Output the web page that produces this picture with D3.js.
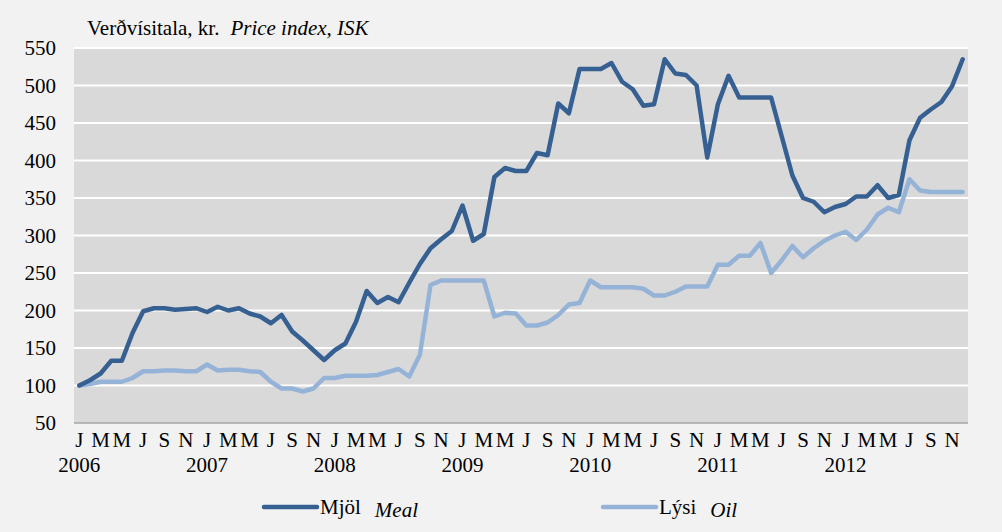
<!DOCTYPE html>
<html>
<head>
<meta charset="utf-8">
<script src="https://cdn.jsdelivr.net/npm/d3@7"></script>
<style>
  body { margin: 0; background: #f2f2f2; }
  svg { display: block; }
  text { font-family: "Liberation Serif", "Times New Roman", serif; fill: #000; }
</style>
</head>
<body>
<svg id="chart" width="1002" height="532"></svg>
<script>
// monthly index, jan 2006 - dec 2012
var years = [2006, 2007, 2008, 2009, 2010, 2011, 2012];
var monthLetters = ["J", "F", "M", "A", "M", "J", "J", "A", "S", "O", "N", "D"];
var yTicks = [50, 100, 150, 200, 250, 300, 350, 400, 450, 500, 550];

var meal = [
  100, 107, 116, 133, 133, 170, 199, 203, 203, 201, 202, 203,
  198, 205, 200, 203, 196, 192, 183, 194, 172, 160, 147, 134,
  147, 156, 185, 226, 210, 218, 211, 237, 262, 283, 295, 306,
  340, 293, 302, 378, 390, 386, 386, 410, 407, 476, 463, 522,
  522, 522, 530, 505, 495, 473, 475, 535, 516, 514, 500, 404,
  475, 513, 484, 484, 484, 484, 432, 380, 350, 345, 331, 338,
  342, 352, 352, 367, 350, 354, 427, 457, 468, 478, 499, 535
];
var oil = [
  100, 102, 105, 105, 105, 110, 119, 119, 120, 120, 119, 119,
  128, 120, 121, 121, 119, 118, 105, 96, 96, 92, 96, 110,
  110, 113, 113, 113, 114, 118, 122, 112, 141, 234, 240, 240,
  240, 240, 240, 192, 197, 196, 180, 180, 184, 194, 208, 210,
  240, 231, 231, 231, 231, 229, 220, 220, 225, 232, 232, 232,
  261, 261, 273, 273, 290, 250, 267, 286, 271, 283, 293, 300,
  305, 294, 308, 328, 337, 331, 375, 360, 358, 358, 358, 358
];

var svg = d3.select("#chart");
var plotLeft = 74, plotRight = 968, plotTop = 48, plotBottom = 423;

var months = d3.range(meal.length);
var x = d3.scaleBand().domain(months).range([plotLeft, plotRight]);
var cx = function(i) { return x(i) + x.bandwidth() / 2; };
var y = d3.scaleLinear().domain([50, 550]).range([plotBottom, plotTop]);

svg.append("rect")
  .attr("x", plotLeft).attr("y", plotTop)
  .attr("width", plotRight - plotLeft).attr("height", plotBottom - plotTop)
  .attr("fill", "#d9d9d9");

// gridlines
svg.append("g").selectAll("line")
  .data(yTicks.slice(1))
  .join("line")
  .attr("x1", plotLeft).attr("x2", plotRight)
  .attr("y1", d => y(d)).attr("y2", d => y(d))
  .attr("stroke", "#fff").attr("stroke-width", 2);

svg.append("line")
  .attr("x1", plotLeft).attr("x2", plotRight)
  .attr("y1", plotBottom).attr("y2", plotBottom)
  .attr("stroke", "#a6a6a6").attr("stroke-width", 1.5);

var yAxis = svg.append("g")
  .attr("transform", "translate(" + (plotLeft - 18) + ",0)")
  .call(d3.axisLeft(y).tickValues(yTicks).tickSize(0).tickPadding(0));
yAxis.select(".domain").remove();
yAxis.selectAll("text").style("font-size", "21px").attr("font-family", null);

// month letters every second month
var xAxis = svg.append("g")
  .attr("transform", "translate(0," + plotBottom + ")")
  .call(d3.axisBottom(x)
    .tickValues(months.filter(i => i % 2 == 0))
    .tickFormat(i => monthLetters[i % 12])
    .tickSize(0).tickPadding(9));
xAxis.select(".domain").remove();
xAxis.selectAll("text").style("font-size", "21px").attr("font-family", null);

svg.append("g").selectAll("text")
  .data(years)
  .join("text")
  .attr("x", (d, i) => cx(i * 12))
  .attr("y", 472)
  .attr("text-anchor", "middle")
  .style("font-size", "21px")
  .text(d => d);

var line = d3.line()
  .x((d, i) => cx(i))
  .y(d => y(d));

svg.append("path").datum(oil)
  .attr("d", line).attr("fill", "none")
  .attr("stroke", "#95b3d7").attr("stroke-width", 4.5)
  .attr("stroke-linejoin", "round").attr("stroke-linecap", "round");

svg.append("path").datum(meal)
  .attr("d", line).attr("fill", "none")
  .attr("stroke", "#366092").attr("stroke-width", 4.5)
  .attr("stroke-linejoin", "round").attr("stroke-linecap", "round");

// title
var title = svg.append("text").attr("x", 87).attr("y", 35).style("font-size", "21px");
title.append("tspan").text("Verðvísitala, kr.");
title.append("tspan").attr("dx", 11).style("font-style", "italic").text("Price index, ISK");

// legend
var legend = [
  {name: "Mjöl", en: "Meal", color: "#366092", x: 264},
  {name: "Lýsi", en: "Oil", color: "#95b3d7", x: 603}
];
var lg = svg.append("g").selectAll("g").data(legend).join("g");
lg.append("line")
  .attr("x1", d => d.x).attr("x2", d => d.x + 53)
  .attr("y1", 507).attr("y2", 507)
  .attr("stroke", d => d.color).attr("stroke-width", 4.5)
  .attr("stroke-linecap", "round");
var lt = lg.append("text")
  .attr("x", d => d.x + 56).attr("y", 514)
  .style("font-size", "21px");
lt.append("tspan").text(d => d.name);
lt.append("tspan").attr("dx", 14).attr("dy", 3).style("font-style", "italic").text(d => d.en);
</script>
</body>
</html>
